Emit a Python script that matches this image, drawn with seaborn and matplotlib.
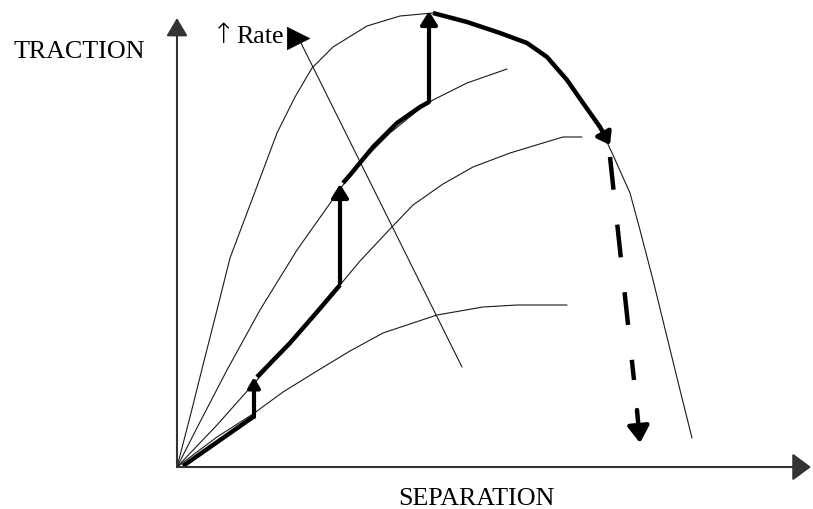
import matplotlib
matplotlib.use("Agg")
import matplotlib.pyplot as plt
import seaborn as sns

# schematic (units ~ pixels, origin where the axes cross)
curve_a_x = [0, 13, 26, 40, 53, 76, 100, 118, 135, 156, 190, 223, 256, 290, 323, 350, 370, 390, 406, 423, 436, 453, 463, 476, 490, 503, 515]
curve_a_y = [0, 50, 102, 157, 209, 270, 334, 370, 399, 420, 441, 451, 454, 445, 434, 424, 410, 387, 364, 340, 312, 274, 237, 187, 130, 77, 29]

curve_b_x = [0, 23, 50, 83, 120, 166, 188, 213, 240, 256, 290, 330]
curve_b_y = [0, 45, 97, 157, 217, 282, 309, 334, 356, 367, 384, 398]

curve_c_x = [0, 40, 80, 113, 140, 163, 183, 213, 236, 266, 296, 333, 366, 386, 405]
curve_c_y = [0, 42, 87, 124, 155, 182, 206, 238, 262, 283, 300, 314, 324, 330, 330]

curve_d_x = [0, 40, 76, 106, 140, 173, 206, 260, 306, 340, 390]
curve_d_y = [0, 30, 53, 75, 96, 116, 134, 152, 160, 162, 162]

# thick loading path
seg1_x, seg1_y = [6, 76], [1, 50]
seg2_x, seg2_y = [80, 113, 140, 163], [90, 124, 155, 182]
seg3_x, seg3_y = [166, 173, 196, 220, 243, 252], [284, 292, 320, 344, 360, 365]
seg4_x, seg4_y = [256, 290, 323, 350, 370, 390, 406, 423, 433], [454, 445, 434, 424, 410, 387, 364, 340, 322]

# jumps between curves (base, tip)
jumps = [((77, 50), (77, 90)), ((163, 184), (163, 283)), ((252, 365), (252, 456))]

drop_x, drop_y = [433, 457], [310, 87]
drop_head = ((460, 57), (463, 24))
rate_x, rate_y = [285, 123], [100, 426]
rate_flag = (121, 429)

x_axis = ((0, 0), (634, 0))
y_axis = ((0, 0), (0, 449))

sns.set_style("white")
plt.rcParams["font.family"] = ["Liberation Serif", "DejaVu Serif", "DejaVu Sans"]
plt.rcParams["text.color"] = "black"

fig = plt.figure(figsize=(8.13, 5.09), dpi=100)
ax = fig.add_axes([0, 0, 1, 1])

thin = dict(color="#1a1a1a", lw=0.8, estimator=None, sort=False, ax=ax)
for xs, ys in [(curve_a_x, curve_a_y), (curve_b_x, curve_b_y),
               (curve_c_x, curve_c_y), (curve_d_x, curve_d_y), (rate_x, rate_y)]:
    sns.lineplot(x=xs, y=ys, **thin)

# the hand-drawn flag at the top of the rate line
sns.scatterplot(x=[rate_flag[0]], y=[rate_flag[1]], marker=">", s=260,
                color="black", edgecolor="black", linewidth=0.5, ax=ax)

thick = dict(color="black", lw=3.2, estimator=None, sort=False, ax=ax)
for xs, ys in [(seg1_x, seg1_y), (seg2_x, seg2_y), (seg3_x, seg3_y), (seg4_x[:-1], seg4_y[:-1])]:
    sns.lineplot(x=xs, y=ys, solid_capstyle="butt", **thick)
sns.lineplot(x=drop_x, y=drop_y, linestyle=(0, (7.4, 7.9)), dash_capstyle="butt", **thick)


def arrow(base, tip, lw, hl, hw, color="black"):
    ax.annotate("", xy=tip, xytext=base,
                arrowprops=dict(arrowstyle=f"-|>,head_length={hl},head_width={hw}",
                                mutation_scale=1, lw=lw, color=color,
                                shrinkA=0, shrinkB=0))


arrow(*x_axis, 1.5, 11.5, 8.5, color="#333333")
arrow(*y_axis, 1.5, 11, 6.5, color="#333333")
arrow(*jumps[0], 3.0, 6, 3.5)
arrow(*jumps[1], 3.0, 8, 5)
arrow(*jumps[2], 3.0, 8, 5)
arrow((seg4_x[-2], seg4_y[-2]), (seg4_x[-1], seg4_y[-1]), 3.2, 7, 5)
arrow(*drop_head, 3.2, 10, 6.5)

ax.text(-164, 409, "TRACTION", fontsize=18.7, ha="left", va="baseline")
ax.text(35, 424, "\u2191", fontsize=20, ha="left", va="baseline",
        family=["DejaVu Sans"], fontweight="light")
ax.text(59, 424, "Rate", fontsize=18.7, ha="left", va="baseline")
ax.text(221, -38, "SEPARATION", fontsize=18.7, ha="left", va="baseline")

ax.set_xlim(-177, 636)
ax.set_ylim(-42, 467)
ax.axis("off")

fig.savefig("out.png", dpi=100, facecolor="white")
